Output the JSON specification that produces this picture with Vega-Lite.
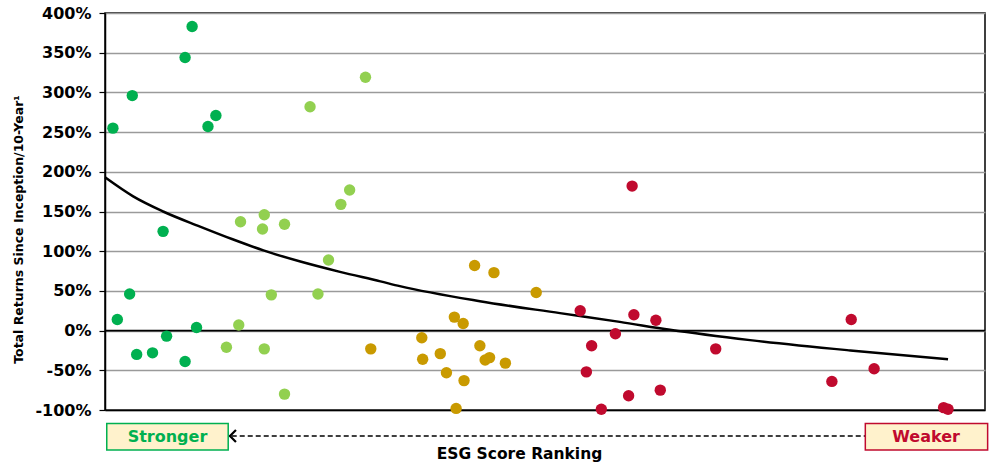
{
  "$schema": "https://vega.github.io/schema/vega-lite/v6.json",
  "autosize": {"type": "none"},
  "width": 880,
  "height": 397,
  "padding": {"left": 105, "top": 13, "right": 12, "bottom": 54},
  "background": "white",
  "data": {"values": [{"note": "annotation"}]},
  "config": {
    "font": "DejaVu Sans",
    "view": {"stroke": "black", "strokeWidth": 1.5},
    "axisY": {
      "labelFontSize": 16, "labelFontWeight": "bold", "labelColor": "black",
      "labelPadding": 8, "tickSize": 6, "tickColor": "black", "tickWidth": 1.2,
      "domainColor": "black", "domainWidth": 1.5, "labelOverlap": false,
      "grid": true, "gridColor": "#9a9a9a", "gridWidth": 1.3,
      "titleFontSize": 12.5, "titleFontWeight": "bold", "titleColor": "black",
      "titleX": -87, "titleY": 216, "titleAngle": -90,
      "titleAlign": "center", "titleBaseline": "middle"
    },
    "axisX": {
      "ticks": false, "labels": false, "grid": false,
      "domain": true, "domainColor": "black", "domainWidth": 1.5,
      "titleFontSize": 15.5, "titleFontWeight": "bold",
      "titleColor": "black", "titleX": 414, "titleY": 48,
      "titleBaseline": "alphabetic", "titleAlign": "center"
    }
  },
  "datasets": {
    "points": [
      {"r": 0.9, "v": 255, "g": "Q1"},
      {"r": 1.4, "v": 14, "g": "Q1"},
      {"r": 2.8, "v": 46, "g": "Q1"},
      {"r": 3.1, "v": 296, "g": "Q1"},
      {"r": 3.6, "v": -30, "g": "Q1"},
      {"r": 5.4, "v": -28, "g": "Q1"},
      {"r": 6.6, "v": 125, "g": "Q1"},
      {"r": 7.0, "v": -7, "g": "Q1"},
      {"r": 9.1, "v": -39, "g": "Q1"},
      {"r": 9.1, "v": 344, "g": "Q1"},
      {"r": 9.9, "v": 383, "g": "Q1"},
      {"r": 10.4, "v": 4, "g": "Q1"},
      {"r": 11.7, "v": 257, "g": "Q1"},
      {"r": 12.6, "v": 271, "g": "Q1"},
      {"r": 13.8, "v": -21, "g": "Q2"},
      {"r": 15.2, "v": 7, "g": "Q2"},
      {"r": 15.4, "v": 137, "g": "Q2"},
      {"r": 17.9, "v": 128, "g": "Q2"},
      {"r": 18.1, "v": 146, "g": "Q2"},
      {"r": 18.1, "v": -23, "g": "Q2"},
      {"r": 18.9, "v": 45, "g": "Q2"},
      {"r": 20.4, "v": 134, "g": "Q2"},
      {"r": 20.4, "v": -80, "g": "Q2"},
      {"r": 23.3, "v": 282, "g": "Q2"},
      {"r": 24.2, "v": 46, "g": "Q2"},
      {"r": 25.4, "v": 89, "g": "Q2"},
      {"r": 26.8, "v": 159, "g": "Q2"},
      {"r": 27.8, "v": 177, "g": "Q2"},
      {"r": 29.6, "v": 319, "g": "Q2"},
      {"r": 30.2, "v": -23, "g": "Q3"},
      {"r": 36.0, "v": -9, "g": "Q3"},
      {"r": 36.1, "v": -36, "g": "Q3"},
      {"r": 38.1, "v": -29, "g": "Q3"},
      {"r": 38.8, "v": -53, "g": "Q3"},
      {"r": 39.7, "v": 17, "g": "Q3"},
      {"r": 39.9, "v": -98, "g": "Q3"},
      {"r": 40.7, "v": 9, "g": "Q3"},
      {"r": 40.8, "v": -63, "g": "Q3"},
      {"r": 42.0, "v": 82, "g": "Q3"},
      {"r": 42.6, "v": -19, "g": "Q3"},
      {"r": 43.2, "v": -37, "g": "Q3"},
      {"r": 43.7, "v": -34, "g": "Q3"},
      {"r": 44.2, "v": 73, "g": "Q3"},
      {"r": 45.5, "v": -41, "g": "Q3"},
      {"r": 49.0, "v": 48, "g": "Q3"},
      {"r": 54.0, "v": 25, "g": "Q4"},
      {"r": 54.7, "v": -52, "g": "Q4"},
      {"r": 55.3, "v": -19, "g": "Q4"},
      {"r": 56.4, "v": -99, "g": "Q4"},
      {"r": 58.0, "v": -4, "g": "Q4"},
      {"r": 59.5, "v": -82, "g": "Q4"},
      {"r": 59.9, "v": 182, "g": "Q4"},
      {"r": 60.1, "v": 20, "g": "Q4"},
      {"r": 62.6, "v": 13, "g": "Q4"},
      {"r": 63.1, "v": -75, "g": "Q4"},
      {"r": 69.4, "v": -23, "g": "Q4"},
      {"r": 82.6, "v": -64, "g": "Q4"},
      {"r": 84.8, "v": 14, "g": "Q4"},
      {"r": 87.4, "v": -48, "g": "Q4"},
      {"r": 95.3, "v": -97, "g": "Q4"},
      {"r": 95.8, "v": -99, "g": "Q4"}
    ],
    "trend": [
      {"r": 0.0, "v": 193},
      {"r": 3.2, "v": 169},
      {"r": 6.6, "v": 150},
      {"r": 10.8, "v": 131},
      {"r": 14.5, "v": 115},
      {"r": 18.0, "v": 101},
      {"r": 22.2, "v": 87},
      {"r": 26.7, "v": 74},
      {"r": 31.3, "v": 62},
      {"r": 33.5, "v": 56},
      {"r": 42.6, "v": 37},
      {"r": 51.7, "v": 22},
      {"r": 58.5, "v": 11},
      {"r": 64.2, "v": 1},
      {"r": 73.3, "v": -12},
      {"r": 84.7, "v": -25},
      {"r": 95.8, "v": -36}
    ]
  },
  "layer": [
    {
      "data": {"name": "points"},
      "mark": {"type": "point", "opacity": 0},
      "encoding": {
        "x": {
          "field": "r", "type": "quantitative",
          "scale": {"domain": [0, 100], "nice": false, "zero": false},
          "axis": {"title": "ESG Score Ranking"}
        },
        "y": {
          "field": "v", "type": "quantitative",
          "scale": {"domain": [-100, 400], "nice": false, "zero": false},
          "axis": {"title": "Total Returns Since Inception/10-Year¹", "values": [-100, -50, 0, 50, 100, 150, 200, 250, 300, 350, 400], "labelExpr": "datum.value + '%'"}
        }
      }
    },
    {
      "mark": {"type": "rule", "color": "black", "strokeWidth": 1.8},
      "encoding": {"y": {"datum": 0, "axis": {"title": "Total Returns Since Inception/10-Year¹", "values": [-100, -50, 0, 50, 100, 150, 200, 250, 300, 350, 400], "labelExpr": "datum.value + '%'"}}}
    },
    {
      "data": {"name": "trend"},
      "mark": {"type": "line", "color": "black", "strokeWidth": 2.5, "interpolate": "monotone"},
      "encoding": {
        "x": {"field": "r", "type": "quantitative", "axis": {"title": "ESG Score Ranking"}},
        "y": {"field": "v", "type": "quantitative", "axis": {"title": "Total Returns Since Inception/10-Year¹", "values": [-100, -50, 0, 50, 100, 150, 200, 250, 300, 350, 400], "labelExpr": "datum.value + '%'"}}
      }
    },
    {
      "data": {"name": "points"},
      "mark": {"type": "circle", "size": 130, "opacity": 1},
      "encoding": {
        "x": {"field": "r", "type": "quantitative", "axis": {"title": "ESG Score Ranking"}},
        "y": {"field": "v", "type": "quantitative", "axis": {"title": "Total Returns Since Inception/10-Year¹", "values": [-100, -50, 0, 50, 100, 150, 200, 250, 300, 350, 400], "labelExpr": "datum.value + '%'"}},
        "color": {
          "field": "g", "type": "nominal",
          "scale": {"domain": ["Q1", "Q2", "Q3", "Q4"], "range": ["#00B050", "#92D050", "#C99A00", "#C00A2E"]},
          "legend": null
        }
      }
    },
    {
      "mark": {"type": "rule", "color": "black", "strokeWidth": 1.5, "strokeDash": [5, 3], "yOffset": 26},
      "encoding": {
        "x": {"datum": 14.4, "axis": {"title": "ESG Score Ranking"}}, "x2": {"datum": 86.4},
        "y": {"datum": -100, "axis": {"title": "Total Returns Since Inception/10-Year¹", "values": [-100, -50, 0, 50, 100, 150, 200, 250, 300, 350, 400], "labelExpr": "datum.value + '%'"}}
      }
    },
    {
      "mark": {"type": "point", "shape": "M1,-1L0,0L1,1", "size": 144, "filled": false, "stroke": "black", "strokeWidth": 2.2, "opacity": 1, "yOffset": 26},
      "encoding": {
        "x": {"datum": 14.2, "axis": {"title": "ESG Score Ranking"}},
        "y": {"datum": -100, "axis": {"title": "Total Returns Since Inception/10-Year¹", "values": [-100, -50, 0, 50, 100, 150, 200, 250, 300, 350, 400], "labelExpr": "datum.value + '%'"}}
      }
    },
    {
      "mark": {"type": "rect", "fill": "#FFF2CC", "stroke": "#00B050", "strokeWidth": 1.5, "yOffset": 13.5, "y2Offset": 40},
      "encoding": {
        "x": {"datum": 0.2, "axis": {"title": "ESG Score Ranking"}}, "x2": {"datum": 14.0},
        "y": {"datum": -100, "axis": {"title": "Total Returns Since Inception/10-Year¹", "values": [-100, -50, 0, 50, 100, 150, 200, 250, 300, 350, 400], "labelExpr": "datum.value + '%'"}}, "y2": {"datum": -100}
      }
    },
    {
      "mark": {"type": "rect", "fill": "#FFF2CC", "stroke": "#C00A2E", "strokeWidth": 1.5, "yOffset": 13.5, "y2Offset": 40},
      "encoding": {
        "x": {"datum": 86.4, "axis": {"title": "ESG Score Ranking"}}, "x2": {"datum": 100.3},
        "y": {"datum": -100, "axis": {"title": "Total Returns Since Inception/10-Year¹", "values": [-100, -50, 0, 50, 100, 150, 200, 250, 300, 350, 400], "labelExpr": "datum.value + '%'"}}, "y2": {"datum": -100}
      }
    },
    {
      "mark": {"type": "text", "text": "Stronger", "font": "DejaVu Sans", "fontSize": 16, "fontWeight": "bold", "color": "#00B050", "baseline": "middle", "align": "center", "yOffset": 27},
      "encoding": {
        "x": {"datum": 7.1, "axis": {"title": "ESG Score Ranking"}},
        "y": {"datum": -100, "axis": {"title": "Total Returns Since Inception/10-Year¹", "values": [-100, -50, 0, 50, 100, 150, 200, 250, 300, 350, 400], "labelExpr": "datum.value + '%'"}}
      }
    },
    {
      "mark": {"type": "text", "text": "Weaker", "font": "DejaVu Sans", "fontSize": 16, "fontWeight": "bold", "color": "#C00A2E", "baseline": "middle", "align": "center", "yOffset": 27},
      "encoding": {
        "x": {"datum": 93.3, "axis": {"title": "ESG Score Ranking"}},
        "y": {"datum": -100, "axis": {"title": "Total Returns Since Inception/10-Year¹", "values": [-100, -50, 0, 50, 100, 150, 200, 250, 300, 350, 400], "labelExpr": "datum.value + '%'"}}
      }
    }
  ]
}
